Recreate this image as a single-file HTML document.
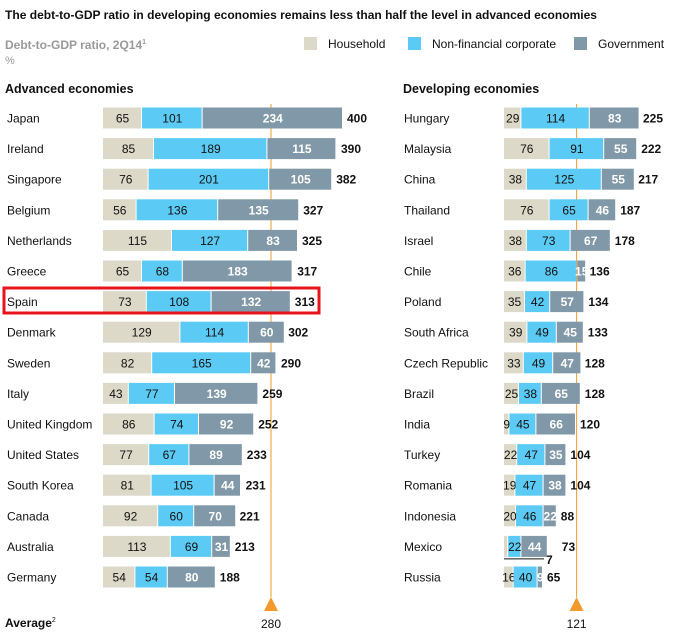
<!DOCTYPE html>
<html><head><meta charset="utf-8"><style>
body{margin:0;background:#fff;font-family:"Liberation Sans",Arial,sans-serif;}
svg text{font-family:"Liberation Sans",Arial,sans-serif;}
</style></head><body>
<svg id="c" width="676" height="636" xmlns="http://www.w3.org/2000/svg">
<text x="5" y="19" font-size="12" font-weight="bold" fill="#111" textLength="592" lengthAdjust="spacingAndGlyphs">The debt-to-GDP ratio in developing economies remains less than half the level in advanced economies</text>
<text x="5" y="49" font-size="12" font-weight="bold" fill="#999">Debt-to-GDP ratio, 2Q14<tspan font-size="7" dy="-5">1</tspan></text>
<text x="5" y="64" font-size="11" fill="#999">%</text>
<rect x="304" y="37" width="13" height="13" fill="#dcd9c8"/>
<text x="328" y="48" font-size="12" fill="#111">Household</text>
<rect x="408" y="37" width="13" height="13" fill="#5bcbf5"/>
<text x="432" y="48" font-size="12" fill="#111">Non-financial corporate</text>
<rect x="574" y="37" width="13" height="13" fill="#8098a8"/>
<text x="598" y="48" font-size="12" fill="#111">Government</text>
<text x="5" y="93" font-size="12.5" font-weight="bold" fill="#111">Advanced economies</text>
<text x="403" y="93" font-size="12.5" font-weight="bold" fill="#111">Developing economies</text>
<text x="5" y="627" font-size="12" font-weight="bold" fill="#111">Average<tspan font-size="7" dy="-5" font-weight="normal">2</tspan></text>
<g id="lines"></g>
<g id="g"></g>
</svg>
<script>
const advCountries=["Japan","Ireland","Singapore","Belgium","Netherlands","Greece","Spain","Denmark","Sweden","Italy","United Kingdom","United States","South Korea","Canada","Australia","Germany"];
const advHousehold=[65,85,76,56,115,65,73,129,82,43,86,77,81,92,113,54];
const advCorporate=[101,189,201,136,127,68,108,114,165,77,74,67,105,60,69,54];
const advGovernment=[234,115,105,135,83,183,132,60,42,139,92,89,44,70,31,80];
const advTotal=[400,390,382,327,325,317,313,302,290,259,252,233,231,221,213,188];
const advAverage=280;
const devCountries=["Hungary","Malaysia","China","Thailand","Israel","Chile","Poland","South Africa","Czech Republic","Brazil","India","Turkey","Romania","Indonesia","Mexico","Russia"];
const devHousehold=[29,76,38,76,38,36,35,39,33,25,9,22,19,20,7,16];
const devCorporate=[114,91,125,65,73,86,42,49,49,38,45,47,47,46,22,40];
const devGovernment=[83,55,55,46,67,15,57,45,47,65,66,35,38,22,44,9];
const devTotal=[225,222,217,187,178,136,134,133,128,128,120,104,104,88,73,65];
const devAverage=121;

const NS="http://www.w3.org/2000/svg";
const g=document.getElementById('g');
const gl=document.getElementById('lines');
const K=0.6, Y0=118, DY=30.6, BH=21;
function mk(t,a,p){const e=document.createElementNS(NS,t);for(const k in a)e.setAttribute(k,a[k]);(p||g).appendChild(e);return e;}
function yPos(i){return Y0+i*DY;}
function panel(names,hh,co,gv,tot,avg,lx,bx,key){
  const xs=v=>bx+v*K;
  names.forEach((n,i)=>{
    const y=yPos(i);
    const t=mk('text',{x:lx,y:y+4.5,'font-size':12,fill:'#111'});t.textContent=n;
    
    
    const segs=[[hh[i],'#dcd9c8','#111','household'],[co[i],'#5bcbf5','#111','corporate'],[gv[i],'#8098a8','#fff','government']];
    let acc=0;
    segs.forEach(s=>{
      const x0=xs(acc), w=s[0]*K;
      const r=mk('rect',{x:x0,y:y-BH/2,width:Math.max(w-1,0.5),height:BH,fill:s[1]});
      
      
      if(s[0]>=9){
        const tx=mk('text',{x:x0+w/2,y:y+4.5,'font-size':12,fill:s[2],'text-anchor':'middle','font-weight':s[3]=='government'?'bold':'normal'});
        tx.textContent=s[0];
        
        
      } else if(s[3]=='household'){
        mk('line',{x1:x0,y1:y+BH/2+2,x2:x0+40,y2:y+BH/2+2,stroke:'#111','stroke-width':1});
        const tx=mk('text',{x:x0+42,y:y+BH/2+7,'font-size':12,'font-weight':'bold',fill:'#111'});
        tx.textContent=s[0];
        
        
      }
      acc+=s[0];
    });
    const tt=mk('text',{x:xs(tot[i])+4+(hh[i]<9?10:0),y:y+4.5,'font-size':12,'font-weight':'bold',fill:'#111'});
    tt.textContent=tot[i];
    
    
  });
  const ax=xs(avg);
  const l=mk('line',{x1:ax,y1:Y0-14,x2:ax,y2:597,stroke:'#f39a2e','stroke-width':1},gl);
  
  
  const tri=mk('polygon',{points:`${ax},597 ${ax-7},611 ${ax+7},611`,fill:'#f39a2e'});
  
  
  const at=mk('text',{x:ax,y:628,'font-size':12,fill:'#111','text-anchor':'middle'});
  at.textContent=avg;
  
  
}
panel(advCountries,advHousehold,advCorporate,advGovernment,advTotal,advAverage,7,103,'adv');
panel(devCountries,devHousehold,devCorporate,devGovernment,devTotal,devAverage,404,504,'dev');
const box=mk('rect',{x:4,y:288,width:315,height:25,fill:'none',stroke:'#e8141c','stroke-width':3});


</script>
</body></html>
